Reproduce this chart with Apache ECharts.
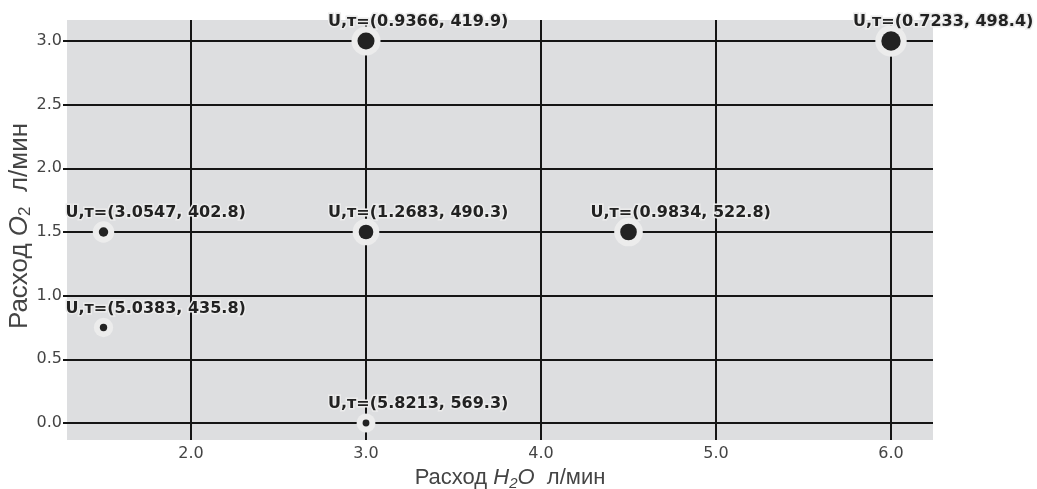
<!DOCTYPE html>
<html>
<head>
<meta charset="utf-8">
<script src="https://cdn.jsdelivr.net/npm/echarts@6/dist/echarts.min.js"></script>
<style>
html,body{margin:0;padding:0;background:#fff;}
#chart{width:1037px;height:489px;}
</style>
</head>
<body>
<div id="chart"></div>
<script>
// Data
const h2oFlow = [3, 6, 1.5, 3, 4.5, 1.5, 3];
const o2Flow  = [3, 3, 1.5, 1.5, 1.5, 0.75, 0];
const uValues = [0.9366, 0.7233, 3.0547, 1.2683, 0.9834, 5.0383, 5.8213];
const tauValues = [419.9, 498.4, 402.8, 490.3, 522.8, 435.8, 569.3];
const xTicks = [2, 3, 4, 5, 6];
const yTicks = [0, 0.5, 1, 1.5, 2, 2.5, 3];

const points = h2oFlow.map((x, i) => [x, o2Flow[i], uValues[i], tauValues[i]]);
const dotSize = d => 16.5 / Math.sqrt(d[2]);

const chart = echarts.init(document.getElementById('chart'), null, {renderer: 'canvas'});
const lineCol = '#151515';
const haloCol = '#ececec';
const titleX = {fontFamily: 'Liberation Sans', fontSize: 22, color: '#444'};
const titleY = {fontFamily: 'Liberation Sans', fontSize: 26, color: '#444'};

chart.setOption({
  animation: false,
  grid: {
    left: 67, right: 104, top: 20, bottom: 49,
    show: true, backgroundColor: '#dddee0', borderWidth: 0,
    containLabel: false, outerBoundsMode: 'none'
  },
  xAxis: {
    type: 'value', min: 1.2914, max: 6.24,
    axisLine: {show: false},
    axisTick: {show: true, customValues: xTicks, length: 8, lineStyle: {color: lineCol, width: 2}},
    axisLabel: {customValues: xTicks, margin: 6, fontFamily: 'DejaVu Sans', fontSize: 16, color: '#444',
      formatter: v => v.toFixed(1)},
    splitLine: {show: true, lineStyle: {color: lineCol, width: 2}},
    name: '{n|Расход }{i|H}{s|2}{i|O}{n|  л/мин}',
    nameLocation: 'middle', nameGap: 21,
    nameTextStyle: {
      padding: [0, 0, 0, 20],
      rich: {
        n: Object.assign({}, titleX, {lineHeight: 26}),
        i: Object.assign({}, titleX, {fontStyle: 'italic', lineHeight: 26}),
        s: Object.assign({}, titleX, {fontSize: 15, lineHeight: 15, verticalAlign: 'bottom', fontStyle: 'italic'})
      }
    }
  },
  yAxis: {
    type: 'value', min: -0.1335, max: 3.165,
    axisLine: {show: false},
    axisTick: {show: true, customValues: yTicks, length: 4, lineStyle: {color: lineCol, width: 2}},
    axisLabel: {customValues: yTicks, margin: 5, fontFamily: 'DejaVu Sans', fontSize: 16, color: '#444',
      formatter: v => v.toFixed(1)},
    splitLine: {show: true, lineStyle: {color: lineCol, width: 2}},
    name: '{n|Расход }{i|O}{s|2}{n|  л/мин}',
    nameLocation: 'middle', nameGap: 33, nameMoveOverlap: false,
    nameTextStyle: {
      padding: [0, 0, 0, 8],
      rich: {
        n: Object.assign({}, titleY, {lineHeight: 28}),
        i: Object.assign({}, titleY, {fontStyle: 'italic', lineHeight: 28}),
        s: Object.assign({}, titleY, {fontSize: 17, lineHeight: 17, verticalAlign: 'bottom'})
      }
    }
  },
  series: [{
    type: 'scatter',
    data: points,
    symbolSize: d => dotSize(d) + 12,
    itemStyle: {color: haloCol, opacity: 1},
    silent: true,
    emphasis: {disabled: true},
    z: 2
  }, {
    type: 'scatter',
    data: points,
    symbolSize: dotSize,
    itemStyle: {color: '#222', opacity: 1},
    label: {
      show: true, position: 'inside', align: 'left', verticalAlign: 'middle',
      offset: [-38, -19],
      formatter: p => 'U,т=(' + p.value[2].toFixed(4) + ', ' + p.value[3].toFixed(1) + ')',
      fontFamily: 'DejaVu Sans', fontWeight: 'bold', fontSize: 16, color: '#222',
      textBorderColor: haloCol, textBorderWidth: 3
    },
    emphasis: {disabled: true},
    z: 3
  }]
});
</script>
</body>
</html>
